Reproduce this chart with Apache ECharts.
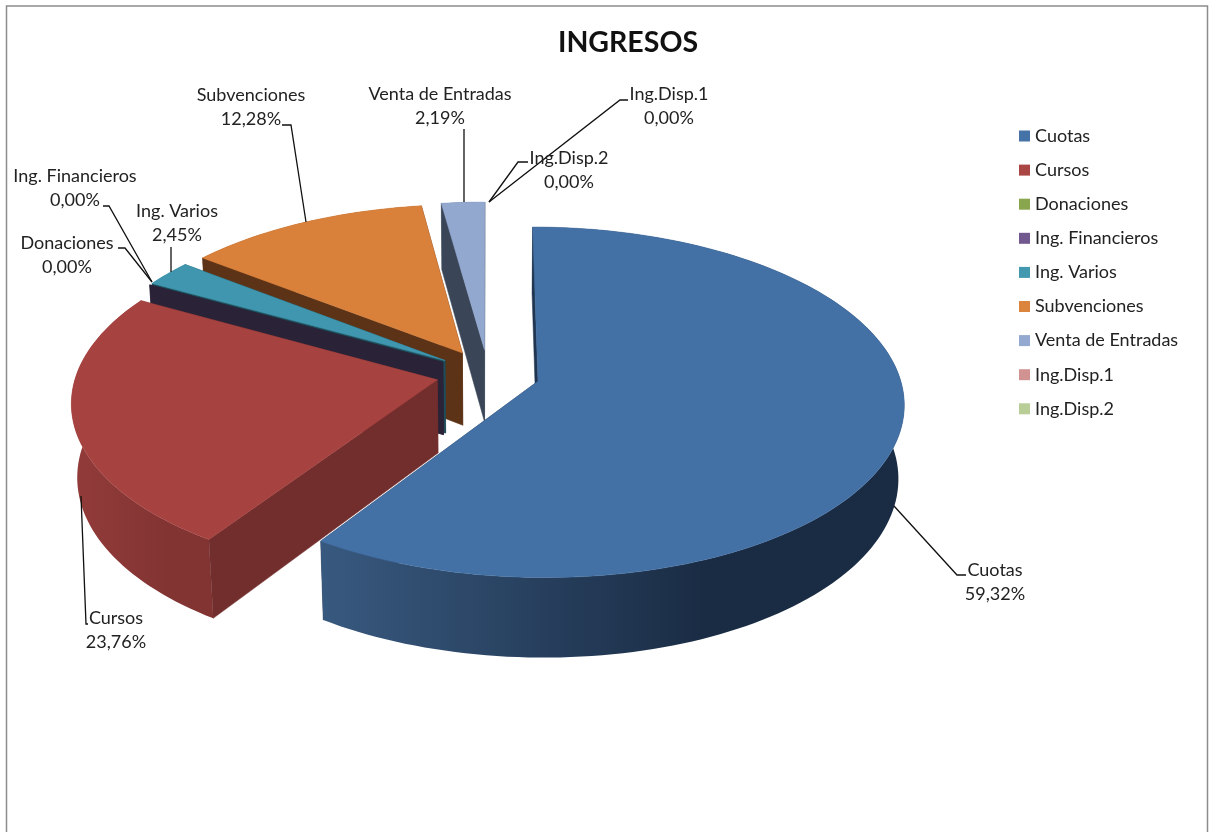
<!DOCTYPE html>
<html>
<head>
<meta charset="utf-8">
<title>INGRESOS</title>
<script src="https://cdn.jsdelivr.net/npm/echarts@6/dist/echarts.min.js"></script>
<style>
html, body { margin: 0; padding: 0; background: #fff; overflow: hidden; }
#main { width: 1210px; height: 832px; }
</style>
</head>
<body>
<div id="main"></div>
<script>
// datos
var categories = ['Cuotas', 'Cursos', 'Donaciones', 'Ing. Financieros', 'Ing. Varios', 'Subvenciones', 'Venta de Entradas', 'Ing.Disp.1', 'Ing.Disp.2'];
var values = [59.32, 23.76, 0, 0, 2.45, 12.28, 2.19, 0, 0];

// colores
var topColors = ['#4471a5', '#a64341', '#8aa64a', '#71588f', '#3f96ae', '#d9803b', '#93a8cf', '#d19392', '#b9cd96'];
var legendColors = ['#4572a7', '#aa4643', '#89a54e', '#71588f', '#4198af', '#db843d', '#93a9cf', '#d19392', '#b9cd96'];
var cutColors = ['#1f3550', '#722d2d', null, '#2a2338', '#1f4c58', '#5c3317', '#3a4658', null, null];
var rimColors = [['#38597f', '#1a2c44'], ['#933c3a', '#823433'], null, null, ['#2a6475', '#2a6475'], ['#8a5226', '#8a5226'], ['#5f6d88', '#5f6d88'], null, null];

// orden de dibujo, del fondo hacia delante
var drawOrder = [8, 7, 6, 5, 4, 2, 3, 1, 0];

// geometria del pastel 3D
var CX = 488, CY = 374, RX = 361, RY = 171, DEPTH = 74;
var PERSP = 0.12, PERSP_Z = 0.014, EXPLODE = 0.144, START_ANGLE = 0;

// etiquetas: centro del texto y guia
var labelCenters = [[995, 582], [116, 630], [67, 255], [75, 188], [177, 223], [251, 107], [440, 106], [669, 106], [569, 170]];
var leaders = [
    [[894, 506], [957, 575], [966, 575]],
    [[81, 496], [86, 624], [88, 624]],
    [[118, 248], [125, 248], [152, 282]],
    [[103, 206], [109, 206], [152, 282]],
    [[171, 247], [171, 272]],
    [[282, 125], [291, 125], [306, 222]],
    [[464, 129], [464, 202]],
    [[628, 100], [620, 100], [489, 202]],
    [[528, 162], [518, 162], [489, 202]]
];

var FONT = 'Lato, "Open Sans", sans-serif';
var total = values.reduce(function (a, b) { return a + b; }, 0);

function project(x, y, z) {
    var w = 1 - PERSP * y + PERSP_Z * z;
    return [CX + RX * x / w, CY + (RY * y + DEPTH * z) / w];
}

function dir(deg) {
    var r = deg * Math.PI / 180;
    return [Math.sin(r), -Math.cos(r)];
}

function sliceStart(i) {
    var acum = 0;
    for (var k = 0; k < i; k++) acum += values[k];
    return START_ANGLE + acum / total * 360;
}

function cutWall(tipTop, tipLow, top, low, color) {
    return {
        type: 'polygon',
        shape: { points: [tipTop, top, low, tipLow] },
        style: { fill: color, stroke: color, lineWidth: 0.5 }
    };
}

function renderSlice(i, api) {
    var a0 = sliceStart(i);
    var a1 = a0 + api.value(0) / total * 360;
    var m = dir((a0 + a1) / 2);
    var ox = m[0] * EXPLODE, oy = m[1] * EXPLODE;
    var steps = Math.max(2, Math.ceil((a1 - a0) / 1.5));
    var topArc = [], lowArc = [];
    for (var s = 0; s <= steps; s++) {
        var d = dir(a0 + (a1 - a0) * s / steps);
        topArc.push(project(ox + d[0], oy + d[1], 0));
        lowArc.push(project(ox + d[0], oy + d[1], 1));
    }
    var tipTop = project(ox, oy, 0), tipLow = project(ox, oy, 1);
    var children = [];
    // corte final (queda detras), borde exterior, corte inicial y cara superior
    if (cutColors[i]) {
        children.push(cutWall(tipTop, tipLow, topArc[steps], lowArc[steps], cutColors[i]));
    }
    if (rimColors[i] && values[i] > 0) {
        children.push({
            type: 'polygon',
            shape: { points: topArc.concat(lowArc.slice().reverse()) },
            style: {
                fill: new echarts.graphic.LinearGradient(0, 0, 1, 0, [
                    { offset: 0, color: rimColors[i][0] },
                    { offset: 0.66, color: rimColors[i][1] },
                    { offset: 1, color: rimColors[i][1] }
                ])
            }
        });
    }
    if (cutColors[i]) {
        children.push(cutWall(tipTop, tipLow, topArc[0], lowArc[0], cutColors[i]));
    }
    if (values[i] > 0) {
        children.push({
            type: 'polygon',
            shape: { points: [tipTop].concat(topArc) },
            style: { fill: topColors[i], stroke: topColors[i], lineWidth: 0.5 }
        });
    }
    return { type: 'group', children: children };
}

function renderLabel(params, api) {
    var i = params.dataIndex;
    var texto = categories[i] + '\n' + api.value(0).toFixed(2).replace('.', ',') + '%';
    return {
        type: 'group',
        children: [{
            type: 'polyline',
            shape: { points: leaders[i] },
            style: { stroke: '#111', lineWidth: 1.3, fill: 'none' }
        }, {
            type: 'text',
            style: {
                x: labelCenters[i][0],
                y: labelCenters[i][1],
                text: texto,
                font: '18px ' + FONT,
                lineHeight: 24,
                fill: '#222',
                align: 'center',
                verticalAlign: 'middle'
            }
        }]
    };
}

var series = drawOrder.map(function (i) {
    return {
        name: categories[i],
        type: 'custom',
        coordinateSystem: 'none',
        silent: true,
        animation: false,
        itemStyle: { color: legendColors[i] },
        data: [[values[i]]],
        renderItem: function (params, api) {
            return renderSlice(i, api);
        }
    };
});
series.push({
    name: 'etiquetas',
    type: 'custom',
    coordinateSystem: 'none',
    silent: true,
    animation: false,
    z: 5,
    data: values.map(function (v) { return [v]; }),
    renderItem: renderLabel
});

var myChart = echarts.init(document.getElementById('main'));
myChart.setOption({
    animation: false,
    backgroundColor: '#fff',
    title: {
        text: 'INGRESOS',
        left: 623,
        top: 23,
        textAlign: 'center',
        textStyle: { fontFamily: FONT, fontSize: 28.5, fontWeight: 'bold', color: '#111' }
    },
    legend: {
        orient: 'vertical',
        left: 1014,
        top: 121,
        itemWidth: 11,
        itemHeight: 11,
        itemGap: 14.1,
        icon: 'rect',
        selectedMode: false,
        data: categories,
        textStyle: { fontFamily: FONT, fontSize: 18, color: '#222', height: 20, lineHeight: 20 }
    },
    graphic: [{
        type: 'rect',
        silent: true,
        shape: { x: 6.5, y: 6, width: 1201, height: 850 },
        style: { fill: 'none', stroke: '#8c8c8c', lineWidth: 1.5 }
    }],
    series: series
});
</script>
</body>
</html>
